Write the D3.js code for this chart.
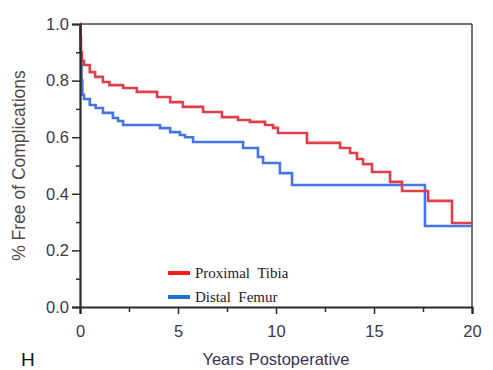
<!DOCTYPE html>
<html>
<head>
<meta charset="utf-8">
<script src="https://cdn.jsdelivr.net/npm/d3@7"></script>
<style>
html,body{margin:0;padding:0;background:#fff;}
svg{display:block;}
</style>
</head>
<body>
<svg id="chart" width="493" height="370"></svg>
<script>
// Kaplan-Meier step data (years, survival)
const tibiaTime = [0, 0.02, 0.05, 0.1, 0.2, 0.5, 0.77, 1.17, 1.5, 2.2, 2.9, 3.93, 4.6, 5.25, 6.28, 7.24, 8.06, 8.67, 9.44, 9.85, 10.1, 11.58, 13.27, 13.78, 14.13, 14.44, 14.9, 15.82, 16.43, 17.76, 18.98, 20];
const tibiaSurv = [1.0, 0.95, 0.90, 0.87, 0.855, 0.83, 0.813, 0.795, 0.784, 0.774, 0.76, 0.742, 0.724, 0.707, 0.689, 0.671, 0.661, 0.654, 0.643, 0.633, 0.615, 0.58, 0.562, 0.544, 0.523, 0.505, 0.477, 0.442, 0.41, 0.375, 0.297, 0.297];
const femurTime = [0, 0.03, 0.08, 0.12, 0.2, 0.5, 0.8, 1.17, 1.68, 1.94, 2.2, 4.08, 4.6, 5.1, 5.36, 5.77, 8.32, 9.08, 9.34, 10.2, 10.82, 17.6, 20];
const femurSurv = [1.0, 0.9, 0.8, 0.75, 0.735, 0.714, 0.703, 0.686, 0.668, 0.657, 0.643, 0.632, 0.618, 0.608, 0.60, 0.583, 0.562, 0.53, 0.509, 0.473, 0.431, 0.286, 0.286];
const seriesNames = ["Proximal  Tibia", "Distal  Femur"];
const xMajorTicks = [0, 5, 10, 15, 20];
const xMinorTicks = [2.5, 7.5, 12.5, 17.5];
const yMajorTicks = [0, 0.2, 0.4, 0.6, 0.8, 1.0];
const yMinorTicks = [0.1, 0.3, 0.5, 0.7, 0.9];

const svg = d3.select("#chart");
const x = d3.scaleLinear().domain([0, 20]).range([80, 472]);
const y = d3.scaleLinear().domain([0, 1]).range([307, 24]);
const axisColor = "#2a2a2a";
const tickTextColor = "#3a3848";

// frame top & right
svg.append("line").attr("x1", x(0)).attr("x2", x(20)).attr("y1", y(1)).attr("y2", y(1))
  .attr("stroke", "#444").attr("stroke-width", 1.5);
svg.append("line").attr("x1", x(20)).attr("x2", x(20)).attr("y1", y(1)).attr("y2", y(0))
  .attr("stroke", "#444").attr("stroke-width", 1.5);

// curves
const line = d3.line().x(d => x(d[0])).y(d => y(d[1])).curve(d3.curveStepAfter);
const tibia = tibiaTime.map((t, i) => [t, tibiaSurv[i]]);
const femur = femurTime.map((t, i) => [t, femurSurv[i]]);
svg.append("path").datum(femur).attr("d", line).attr("fill", "none")
  .attr("stroke", "#3a6fe2").attr("stroke-width", 2.6).attr("opacity", 0.95);
svg.append("path").datum(tibia).attr("d", line).attr("fill", "none")
  .attr("stroke", "#de3440").attr("stroke-width", 2.6).attr("opacity", 0.95);

// Y axis
const yAxis = svg.append("g").attr("transform", `translate(${x(0)},0)`)
  .call(d3.axisLeft(y).tickValues(yMajorTicks).tickFormat(d3.format(".1f")).tickSize(8).tickPadding(3));
yAxis.select(".domain").attr("stroke", axisColor).attr("stroke-width", 2.2);
yAxis.selectAll(".tick line").attr("stroke", axisColor).attr("stroke-width", 1.5);
yAxis.selectAll(".tick text").attr("font-family", "Liberation Sans, Arial, sans-serif")
  .attr("font-size", 16.5).attr("fill", tickTextColor);
const yMinor = svg.append("g").attr("transform", `translate(${x(0)},0)`)
  .call(d3.axisLeft(y).tickValues(yMinorTicks).tickFormat("").tickSize(4));
yMinor.select(".domain").remove();
yMinor.selectAll(".tick line").attr("stroke", axisColor).attr("stroke-width", 1.5);

// X axis
const xAxis = svg.append("g").attr("transform", `translate(0,${y(0)})`)
  .call(d3.axisBottom(x).tickValues(xMajorTicks).tickFormat(d3.format("d")).tickSize(7).tickPadding(11));
xAxis.select(".domain").attr("stroke", axisColor).attr("stroke-width", 2.2);
xAxis.selectAll(".tick line").attr("stroke", axisColor).attr("stroke-width", 1.5);
xAxis.selectAll(".tick text").attr("font-family", "Liberation Sans, Arial, sans-serif")
  .attr("font-size", 16.5).attr("fill", tickTextColor);
const xMinor = svg.append("g").attr("transform", `translate(0,${y(0)})`)
  .call(d3.axisBottom(x).tickValues(xMinorTicks).tickFormat("").tickSize(5));
xMinor.select(".domain").remove();
xMinor.selectAll(".tick line").attr("stroke", axisColor).attr("stroke-width", 1.5);

// axis titles
svg.append("text").attr("x", (x(0) + x(20)) / 2).attr("y", 365)
  .attr("text-anchor", "middle").attr("font-family", "Liberation Sans, Arial, sans-serif")
  .attr("font-size", 16.5).attr("fill", "#3b3252").text("Years Postoperative");
svg.append("text").attr("transform", `translate(25,${(y(0) + y(1)) / 2}) rotate(-90)`)
  .attr("text-anchor", "middle").attr("font-family", "Liberation Sans, Arial, sans-serif")
  .attr("font-size", 17.5).attr("fill", "#574744").text("% Free of Complications");

// legend
const legendColors = ["#ff1a1a", "#1f6fd0"];
const legendY = [273, 297];
seriesNames.forEach((name, i) => {
  svg.append("line").attr("x1", 168).attr("x2", 190).attr("y1", legendY[i]).attr("y2", legendY[i])
    .attr("stroke", legendColors[i]).attr("stroke-width", 4);
  svg.append("text").attr("x", 195).attr("y", legendY[i] + 5)
    .attr("font-family", "Liberation Serif, Times New Roman, serif").attr("font-size", 15)
    .attr("fill", "#222").style("white-space", "pre").text(name);
});

// panel letter
svg.append("text").attr("x", 21).attr("y", 366).attr("font-family", "Liberation Sans, Arial, sans-serif")
  .attr("font-size", 19).attr("fill", "#111").text("H");
</script>
</body>
</html>
